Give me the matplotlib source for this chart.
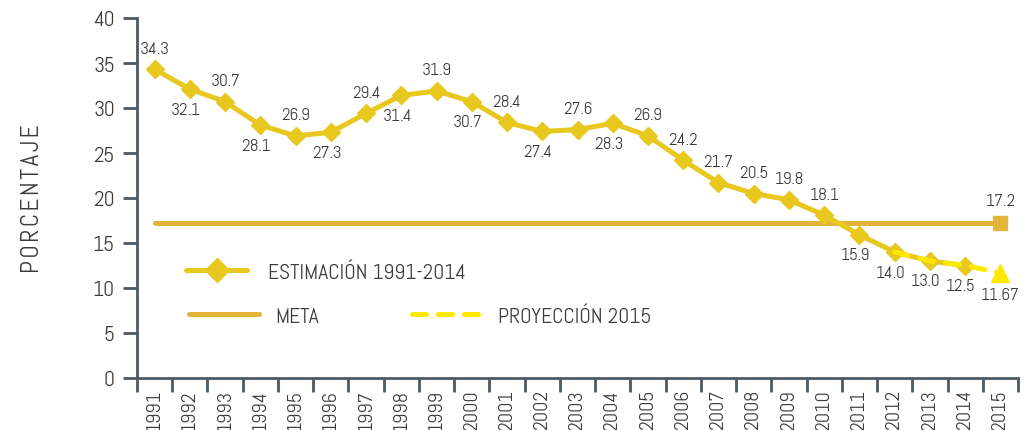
import matplotlib
matplotlib.use("Agg")
import matplotlib.pyplot as plt
from matplotlib.lines import Line2D
from matplotlib import font_manager as fm

years = [str(y) for y in range(1991, 2016)]
estimacion = [34.3, 32.1, 30.7, 28.1, 26.9, 27.3, 29.4, 31.4, 31.9, 30.7, 28.4, 27.4,
              27.6, 28.3, 26.9, 24.2, 21.7, 20.5, 19.8, 18.1, 15.9, 14.0, 13.0, 12.5]
est_labels = ["34.3", "32.1", "30.7", "28.1", "26.9", "27.3", "29.4", "31.4", "31.9", "30.7",
              "28.4", "27.4", "27.6", "28.3", "26.9", "24.2", "21.7", "20.5", "19.8", "18.1",
              "15.9", "14.0", "13.0", "12.5"]
label_pos = ["a", "b", "a", "b", "a", "b", "a", "b", "a", "b", "a", "b", "a", "b",
             "a", "a", "a", "a", "a", "a", "b", "b", "b", "b"]
proy_years = ["2012", "2013", "2014", "2015"]
proyeccion = [14.0, 13.0, 12.5, 11.67]
meta = 17.2
yticks = [0, 5, 10, 15, 20, 25, 30, 35, 40]

installed = {f.name for f in fm.fontManager.ttflist}
fam = "Abel" if "Abel" in installed else "Liberation Sans"
plt.rcParams['font.family'] = [fam, 'DejaVu Sans']

C_EST = "#E8C81E"
C_META = "#E3B43A"
C_PROY = "#FFE800"
C_AXIS = "#4B5A65"
C_TXT = "#3C3C3C"
DASH = (0, (2.8, 2.4))

fig = plt.figure(figsize=(10.26, 4.31), dpi=100)
ax = fig.add_axes([137/1026, 52/431, 881/1026, 360/431])

x = list(range(len(years)))
xe = x[:len(estimacion)]
xp = [years.index(y) for y in proy_years]

ax.plot([x[0], x[-1]], [meta, meta], color=C_META, lw=3.6, solid_capstyle='round', zorder=2)
ax.plot([x[-1]], [meta], marker='s', ms=10, color=C_META, zorder=3, ls='none')
ax.plot(xe, estimacion, color=C_EST, lw=3.6, marker='D', ms=9.5, zorder=4)
ax.plot(xp, proyeccion, color=C_PROY, lw=3.6, ls=DASH, dash_capstyle='round', zorder=5)
ax.plot([xp[-1]], [proyeccion[-1]], marker='^', ms=13, color=C_PROY, ls='none', zorder=6)

for xi, v, t, p in zip(xe, estimacion, est_labels, label_pos):
    if p == "a":
        ax.annotate(t, (xi, v), xytext=(0, 9), textcoords='offset points', ha='center', va='bottom',
                    fontsize=12.5, color=C_TXT)
    else:
        ax.annotate(t, (xi, v), xytext=(-3, -9), textcoords='offset points', ha='center', va='top',
                    fontsize=12.5, color=C_TXT)
ax.annotate("11.67", (xp[-1], proyeccion[-1]), xytext=(0, -10), textcoords='offset points',
            ha='center', va='top', fontsize=12.5, color=C_TXT)
ax.annotate(f"{meta}", (x[-1], meta), xytext=(0, 10), textcoords='offset points',
            ha='center', va='bottom', fontsize=12.5, color=C_TXT)

ax.set_xlim(-0.5, len(years) - 0.5)
ax.set_ylim(0, 40)
ax.set_yticks(yticks)
ax.set_yticklabels([str(v) for v in yticks], fontsize=15.5, color=C_TXT)
ax.set_xticks(x)
ax.set_xticklabels(years, rotation=90, fontsize=14.5, color=C_TXT)
ax.set_xticks([i - 0.5 for i in range(len(years) + 1)], minor=True)
ax.tick_params(axis='x', which='major', length=0, pad=8)
ax.tick_params(axis='x', which='minor', length=10, width=2, color=C_AXIS)
ax.tick_params(axis='y', length=10, width=2, color=C_AXIS, pad=6)
for s in ['top', 'right']:
    ax.spines[s].set_visible(False)
for s in ['left', 'bottom']:
    ax.spines[s].set_color(C_AXIS)
    ax.spines[s].set_linewidth(2)
ax.set_ylabel("\u200a".join("PORCENTAJE"), fontsize=18, color=C_TXT)
ax.yaxis.set_label_coords(-0.105, 0.5)

h1 = Line2D([], [], color=C_EST, lw=3.6, marker='D', ms=12, solid_capstyle='round')
h2 = Line2D([], [], color=C_META, lw=3.6, solid_capstyle='round')
h3 = Line2D([], [], color=C_PROY, lw=3.6, ls=DASH, dash_capstyle='round')
leg1 = ax.legend([h1], ["ESTIMACIÓN 1991-2014"], loc='center left',
                 bbox_to_anchor=(167/1026, (431-273)/431), bbox_transform=fig.transFigure,
                 frameon=False, fontsize=15.5, handlelength=2.8, handletextpad=1.0, labelcolor=C_TXT)
ax.add_artist(leg1)
ax.legend([h2, h3], ["META", "PROYECCIÓN 2015"], loc='center left', ncol=2,
          bbox_to_anchor=(170/1026, (431-317)/431), bbox_transform=fig.transFigure,
          frameon=False, fontsize=15.5, handlelength=3.25, handletextpad=0.75, columnspacing=4.3,
          labelcolor=C_TXT)

fig.savefig("out.png", dpi=100)
